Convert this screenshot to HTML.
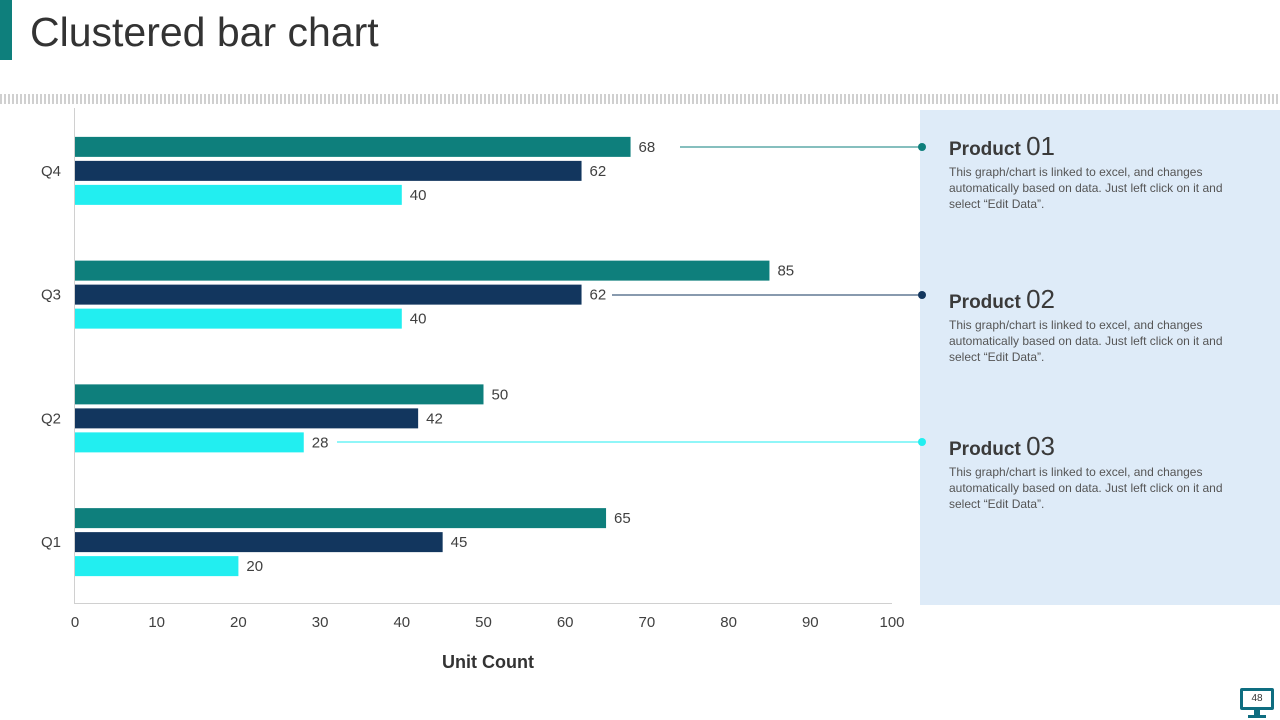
<!DOCTYPE html>
<html><head><meta charset="utf-8"><style>
body{margin:0;width:1280px;height:720px;background:#fff;position:relative;overflow:hidden;font-family:"Liberation Sans",sans-serif}
.abs{position:absolute}
.ph{position:absolute;left:949px;width:304px;color:#404040}
.ph h3{margin:0;font-size:19px;font-weight:bold;color:#3a3a3a}
.ph h3 span{font-size:26px;font-weight:normal}
.ph p{margin:2px 0 0;font-size:12px;line-height:16px;color:#555}
</style></head><body>
<div class="abs" style="left:0;top:0;width:12px;height:60px;background:#0e7f7c"></div>
<div class="abs" style="left:30px;top:9px;font-size:41px;color:#333">Clustered bar chart</div>
<div class="abs" style="left:0;top:94px;width:1280px;height:10px;background:repeating-linear-gradient(90deg,#d0d0d0 0 2px,transparent 2px 4px)"></div>
<div class="abs" style="left:920px;top:110px;width:360px;height:495px;background:#deebf8"></div>
<div class="ph" style="top:131px"><h3>Product <span>01</span></h3><p>This graph/chart is linked to excel, and changes automatically based on data. Just left click on it and select “Edit Data”.</p></div>
<div class="ph" style="top:284px"><h3>Product <span>02</span></h3><p>This graph/chart is linked to excel, and changes automatically based on data. Just left click on it and select “Edit Data”.</p></div>
<div class="ph" style="top:431px"><h3>Product <span>03</span></h3><p>This graph/chart is linked to excel, and changes automatically based on data. Just left click on it and select “Edit Data”.</p></div>
<svg class="abs" style="left:0;top:0" width="1280" height="720" id="chart"></svg>
<div class="abs" style="left:1240px;top:688px;width:34px;height:22px;border:3px solid #0e6d80;box-sizing:border-box;border-radius:2px;font-size:10px;text-align:center;line-height:16px;color:#333">48</div>
<div class="abs" style="left:1254px;top:710px;width:6px;height:6px;background:#0e6d80"></div>
<div class="abs" style="left:1248px;top:715px;width:18px;height:3px;background:#0e6d80"></div>
<script>
const categories=["Q1","Q2","Q3","Q4"];
const series1=[65,50,85,68];
const series2=[45,42,62,62];
const series3=[20,28,40,40];
const ticks=[0,10,20,30,40,50,60,70,80,90,100];
const colors=["#0e7f7c","#12365e","#22eef0"];
const svg=document.getElementById('chart');
const NS="http://www.w3.org/2000/svg";
const x0=75,x1=892,yTop=108,yBot=603;
const xs=v=>x0+(x1-x0)*v/100;
const groupH=(yBot-yTop)/categories.length;
const gy=i=>yBot-groupH*(i+0.5);
function mk(t,a){const e=document.createElementNS(NS,t);for(const k in a)e.setAttribute(k,a[k]);svg.appendChild(e);return e;}
let ax=mk('line',{x1:74.5,y1:yTop,x2:74.5,y2:yBot,stroke:'#d0d0d0'});


let bx=mk('line',{x1:74,y1:yBot+0.5,x2:x1,y2:yBot+0.5,stroke:'#d0d0d0'});


ticks.forEach(t=>{const e=mk('text',{x:xs(t),y:627,'text-anchor':'middle','font-size':15,fill:'#404040'});e.textContent=t;

});
const all=[series1,series2,series3];
categories.forEach((c,i)=>{
 const cy=gy(i);
 const l=mk('text',{x:61,y:cy+6,'text-anchor':'end','font-size':15,fill:'#404040'});l.textContent=c;
 
 
 all.forEach((s,j)=>{
  const y=cy-33+j*24;
  const r=mk('rect',{x:x0,y:y,width:xs(s[i])-x0,height:20,fill:colors[j]});
  
  
  const t=mk('text',{x:xs(s[i])+8,y:y+15,'font-size':15,fill:'#404040'});t.textContent=s[i];
  
  
 });
});
const xt=mk('text',{x:488,y:668,'text-anchor':'middle','font-size':18,'font-weight':'bold',fill:'#333'});xt.textContent='Unit Count';


[[680,147,colors[0]],[612,295,colors[1]],[337,442,colors[2]]].forEach(([a,y,c],k)=>{
 const ln=mk('line',{x1:a,y1:y,x2:922,y2:y,stroke:c,'stroke-width':1});
 
 
 const d=mk('circle',{cx:922,cy:y,r:4,fill:c});
 
 
});
</script>
</body></html>
